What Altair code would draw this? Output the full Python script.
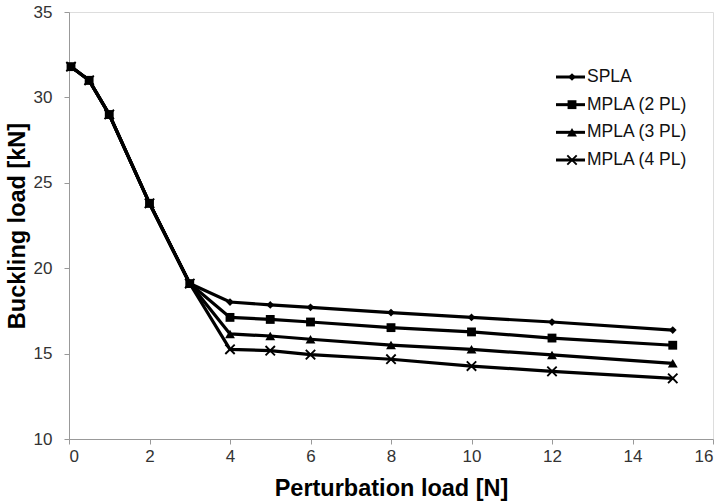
import altair as alt
import pandas as pd

series_names = ["SPLA", "MPLA (2 PL)", "MPLA (3 PL)", "MPLA (4 PL)"]
x_vals = [0.05, 0.5, 1, 2, 3, 4, 5, 6, 8, 10, 12, 15]
spla = [31.8, 31.0, 29.0, 23.8, 19.1, 18.02, 17.85, 17.71, 17.4, 17.12, 16.85, 16.38]
mpla2 = [31.8, 31.0, 29.0, 23.8, 19.1, 17.12, 17.0, 16.85, 16.52, 16.27, 15.91, 15.49]
mpla3 = [31.8, 31.0, 29.0, 23.8, 19.1, 16.15, 16.03, 15.84, 15.5, 15.25, 14.92, 14.43]
mpla4 = [31.8, 31.0, 29.0, 23.8, 19.1, 15.25, 15.17, 14.94, 14.67, 14.27, 13.96, 13.55]

rows = []
for name, vals in zip(series_names, [spla, mpla2, mpla3, mpla4]):
    for x, y in zip(x_vals, vals):
        rows.append({"series": name, "x": x, "y": y})
df = pd.DataFrame(rows)
leg = pd.DataFrame({"series": series_names})

XPATH = "M-1,-0.75L-0.75,-1L0,-0.25L0.75,-1L1,-0.75L0.25,0L1,0.75L0.75,1L0,0.25L-0.75,1L-1,0.75L-0.25,0Z"
shape_scale = alt.Scale(domain=series_names, range=["diamond", "square", "triangle-up", XPATH])
size_scale = alt.Scale(domain=series_names, range=[60, 115, 100, 115])

FONT = "Liberation Sans"

xenc = alt.X("x:Q", scale=alt.Scale(domain=[0, 16], nice=False),
             axis=alt.Axis(values=list(range(0, 17, 2)), title="Perturbation load [N]", grid=False,
                           domainColor="#999999", tickColor="#999999", tickSize=5,
                           labelFont=FONT, labelFontSize=17, labelColor="#333333", labelPadding=4,
                           titleFont=FONT, titleFontSize=23.5, titleFontWeight="bold", titleColor="#000000",
                           titlePadding=12))
yenc = alt.Y("y:Q", scale=alt.Scale(domain=[10, 35], nice=False),
             axis=alt.Axis(values=list(range(10, 36, 5)), title="Buckling load [kN]", grid=False,
                           domainColor="#999999", tickColor="#999999", tickSize=5,
                           labelFont=FONT, labelFontSize=17, labelColor="#333333", labelPadding=12,
                           titleFont=FONT, titleFontSize=23.5, titleFontWeight="bold", titleColor="#000000",
                           titlePadding=4))

base = alt.Chart(df)
lines = base.mark_line(color="black", strokeWidth=3.2).encode(x=xenc, y=yenc, detail="series:N")
points = base.mark_point(filled=True, color="black", opacity=1).encode(
    x="x:Q", y="y:Q",
    shape=alt.Shape("series:N", scale=shape_scale, legend=None),
    size=alt.Size("series:N", scale=size_scale, legend=None),
)

ly = alt.Y("series:N", scale=alt.Scale(type="point", domain=series_names, range=[65, 148], padding=0), axis=None)
lbase = alt.Chart(leg)
lrule = lbase.mark_rule(color="black", strokeWidth=3).encode(x=alt.value(487), x2=alt.value(516), y=ly)
lpt = lbase.mark_point(filled=True, color="black", opacity=1).encode(
    x=alt.value(503), y=ly,
    shape=alt.Shape("series:N", scale=shape_scale, legend=None),
    size=alt.Size("series:N", scale=size_scale, legend=None),
)
ltext = lbase.mark_text(align="left", baseline="middle", font=FONT, fontSize=17.5, color="#111111").encode(
    x=alt.value(518), y=ly, text="series:N")
legend = alt.layer(lrule, lpt, ltext)

chart = alt.layer(alt.layer(lines, points), legend).resolve_scale(y="independent").properties(
    width=644, height=427,
    autosize=alt.AutoSizeParams(type="none"),
    padding={"left": 69, "top": 12, "right": 13, "bottom": 64},
).configure_view(stroke=None).configure(background="white")

chart.save("out.html", embed_options={"renderer": "svg", "actions": False})
